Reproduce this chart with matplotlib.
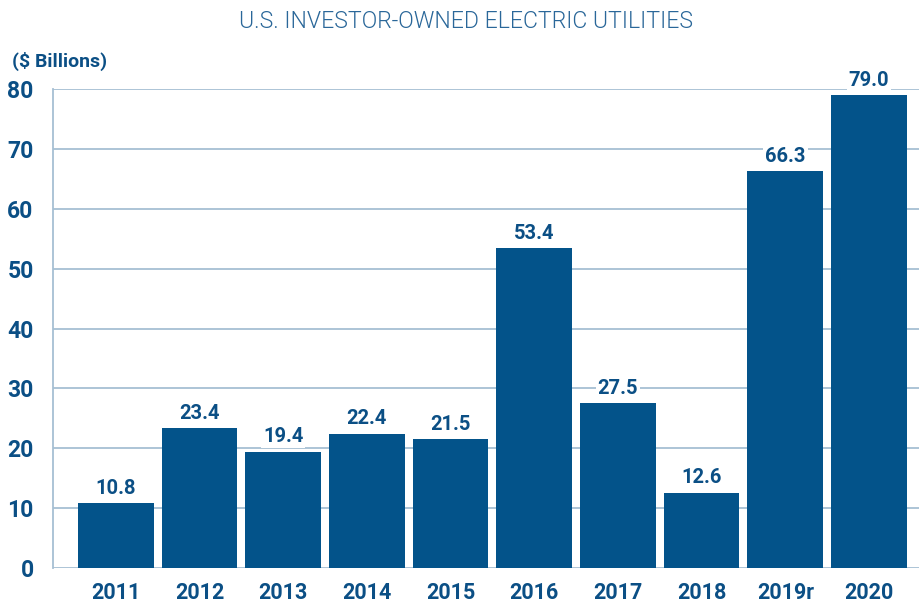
import matplotlib.pyplot as plt

years = ["2011", "2012", "2013", "2014", "2015", "2016", "2017", "2018", "2019r", "2020"]
values = [10.8, 23.4, 19.4, 22.4, 21.5, 53.4, 27.5, 12.6, 66.3, 79.0]
yticks = [0, 10, 20, 30, 40, 50, 60, 70, 80]

bar_col = "#03538a"
txt_col = "#0b4f85"
grid_col = "#a6bfd3"

plt.rcParams['font.family'] = ['Roboto', 'DejaVu Sans']

fig = plt.figure(figsize=(9.2, 6.03), dpi=100)
ax = fig.add_axes([53/920, 35/603, 867/920, 479/603])

x = list(range(len(years)))
ax.bar(x, values, width=0.905, color=bar_col, zorder=3)

for xi, v in zip(x, values):
    ax.text(xi, v + 0.9, f"{v:.1f}", ha="center", va="bottom", fontsize=14.5,
            fontweight="bold", color=txt_col, zorder=4,
            bbox=dict(facecolor="white", edgecolor="none", pad=1.5))

ax.set_xlim(-0.75, 9.61)
ax.set_ylim(0, 80)
ax.set_yticks(yticks)
ax.set_xticks(x)
ax.set_xticklabels(years)
ax.grid(axis="y", color=grid_col, linewidth=1.3, zorder=0)
ax.tick_params(length=0, labelsize=15.5, labelcolor=txt_col, pad=10)
ax.tick_params(axis="y", labelsize=16.5, pad=14)
for lab in ax.get_xticklabels() + ax.get_yticklabels():
    lab.set_fontweight("bold")

for s in ["top", "right", "bottom"]:
    ax.spines[s].set_visible(False)
ax.spines["left"].set_color(grid_col)
ax.spines["left"].set_linewidth(1.3)

fig.text(0.506, 0.965, "U.S. INVESTOR-OWNED ELECTRIC UTILITIES", ha="center",
         va="center", fontsize=16.6, fontweight=300, color="#2a6799")
fig.text(12/920, 1 - 61/603, "($ Billions)", ha="left", va="center",
         fontsize=14, fontweight="bold", color=txt_col)

fig.savefig("out.png", dpi=100)
